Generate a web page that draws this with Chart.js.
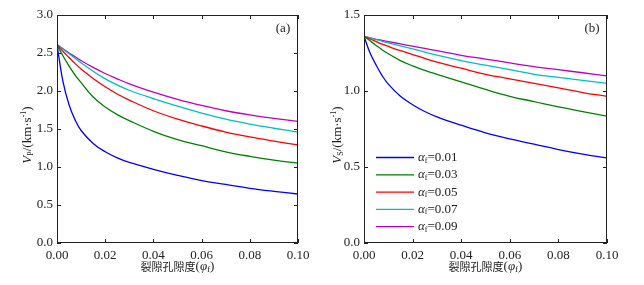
<!DOCTYPE html>
<html>
<head>
<meta charset="utf-8">
<script src="https://cdn.jsdelivr.net/npm/chart.js@4/dist/chart.umd.min.js"></script>
<style>
  body { margin: 0; background: #fff; }
  .wrap { display: flex; width: 644px; height: 285px; }
  .panel { width: 322px; height: 285px; }
</style>
</head>
<body>
<div class="wrap">
  <div class="panel"><canvas id="vp-chart" width="322" height="285"></canvas></div>
  <div class="panel"><canvas id="vs-chart" width="322" height="285"></canvas></div>
</div>
<script>
// fracture porosity (x axis)
const porosity = [0, 0.0025, 0.005, 0.0075, 0.01, 0.015, 0.02, 0.025, 0.03, 0.04, 0.05, 0.06, 0.07, 0.08, 0.09, 0.10];
const alphaLabels = ["0.01", "0.03", "0.05", "0.07", "0.09"];
const lineColors = ["#0000ff", "#008000", "#ff0000", "#00bfbf", "#bf00bf"];

// (a) P-wave velocity, km/s
const vp01 = [2.61, 2.12, 1.82, 1.62, 1.48, 1.31, 1.20, 1.12, 1.06, 0.97, 0.89, 0.82, 0.77, 0.72, 0.68, 0.645];
const vp03 = [2.61, 2.46, 2.33, 2.21, 2.11, 1.92, 1.79, 1.69, 1.61, 1.47, 1.36, 1.28, 1.20, 1.14, 1.09, 1.05];
const vp05 = [2.61, 2.52, 2.44, 2.36, 2.29, 2.165, 2.055, 1.96, 1.88, 1.74, 1.63, 1.54, 1.46, 1.395, 1.34, 1.29];
const vp07 = [2.61, 2.55, 2.49, 2.43, 2.37, 2.26, 2.16, 2.08, 2.01, 1.90, 1.80, 1.71, 1.63, 1.565, 1.51, 1.46];
const vp09 = [2.61, 2.555, 2.50, 2.45, 2.40, 2.31, 2.23, 2.16, 2.095, 1.985, 1.89, 1.81, 1.74, 1.685, 1.64, 1.60];

// (b) S-wave velocity, km/s
const vs01 = [1.36, 1.25, 1.17, 1.10, 1.045, 0.965, 0.91, 0.865, 0.83, 0.775, 0.725, 0.685, 0.65, 0.615, 0.585, 0.56];
const vs03 = [1.36, 1.33, 1.30, 1.27, 1.245, 1.20, 1.165, 1.135, 1.11, 1.06, 1.01, 0.965, 0.93, 0.895, 0.865, 0.835];
const vs05 = [1.36, 1.342, 1.325, 1.308, 1.293, 1.265, 1.24, 1.215, 1.19, 1.15, 1.11, 1.08, 1.05, 1.02, 0.99, 0.965];
const vs07 = [1.36, 1.349, 1.338, 1.327, 1.317, 1.297, 1.277, 1.256, 1.236, 1.20, 1.17, 1.14, 1.11, 1.09, 1.07, 1.05];
const vs09 = [1.36, 1.35, 1.34, 1.333, 1.325, 1.31, 1.295, 1.28, 1.265, 1.235, 1.21, 1.185, 1.16, 1.14, 1.12, 1.10];

const SERIF = "'Liberation Serif', 'Times New Roman', serif";
const CJK = "'Noto Sans CJK SC', sans-serif";
const INK = "#222";

// draw a run of text pieces (font / baseline shift) starting at x
function drawRich(ctx, parts, x, y, align) {
  let total = 0;
  parts.forEach((p) => {
    ctx.font = p.font;
    p.w = ctx.measureText(p.t).width;
    total += p.w;
  });
  let cx = align === "center" ? x - total / 2 : x;
  ctx.textBaseline = "middle";
  ctx.textAlign = "left";
  parts.forEach((p) => {
    ctx.font = p.font;
    ctx.fillText(p.t, cx, y + (p.dy || 0));
    cx += p.w;
  });
}

function makeDecor(opts) {
  return {
    id: "decor",
    afterDraw(chart) {
      const ctx = chart.ctx;
      const a = chart.chartArea;
      const xs = chart.scales.x;
      const ys = chart.scales.y;
      ctx.save();
      ctx.strokeStyle = INK;
      ctx.lineWidth = 1;
      ctx.strokeRect(a.left + 0.5, a.top + 0.5, a.right - a.left - 1, a.bottom - a.top - 1);
      // inward ticks on all four sides
      ctx.beginPath();
      xs.ticks.forEach((t) => {
        const px = Math.round(xs.getPixelForValue(t.value)) + 0.5;
        ctx.moveTo(px, a.bottom);
        ctx.lineTo(px, a.bottom - 4);
        ctx.moveTo(px, a.top);
        ctx.lineTo(px, a.top + 4);
      });
      ys.ticks.forEach((t) => {
        const py = Math.round(ys.getPixelForValue(t.value)) + 0.5;
        ctx.moveTo(a.left, py);
        ctx.lineTo(a.left + 4, py);
        ctx.moveTo(a.right, py);
        ctx.lineTo(a.right - 4, py);
      });
      ctx.stroke();

      ctx.fillStyle = INK;
      // x title
      drawRich(ctx, [
        { t: "裂隙孔隙度", font: "11px " + CJK },
        { t: "(", font: "13px " + SERIF },
        { t: "φ", font: "italic 13px " + SERIF },
        { t: "f", font: "9px " + SERIF, dy: 3 },
        { t: ")", font: "13px " + SERIF },
      ], (a.left + a.right) / 2, 267, "center");

      // y title (rotated)
      ctx.save();
      ctx.translate(opts.yTitleX, 135);
      ctx.rotate(-Math.PI / 2);
      drawRich(ctx, [
        { t: "V", font: "italic 13px " + SERIF },
        { t: opts.sub, font: "8px " + SERIF, dy: 3 },
        { t: "/(km·s", font: "13px " + SERIF },
        { t: "-1", font: "8px " + SERIF, dy: -4 },
        { t: ")", font: "13px " + SERIF },
      ], 0, 0, "center");
      ctx.restore();

      // panel tag
      ctx.font = "13px " + SERIF;
      ctx.textAlign = "center";
      ctx.textBaseline = "middle";
      ctx.fillText(opts.tag, a.right - 15, 29);

      // legend
      if (opts.legend) {
        chart.data.datasets.forEach((ds, i) => {
          const ly = 157.5 + i * 17.3;
          ctx.strokeStyle = ds.borderColor;
          ctx.lineWidth = 1.3;
          ctx.beginPath();
          ctx.moveTo(a.left + 12, ly);
          ctx.lineTo(a.left + 50, ly);
          ctx.stroke();
          ctx.fillStyle = INK;
          drawRich(ctx, [
            { t: "α", font: "italic 13px " + SERIF },
            { t: "f", font: "8px " + SERIF, dy: 3 },
            { t: "=" + alphaLabels[i], font: "13px " + SERIF },
          ], a.left + 54, ly, "left");
        });
      }
      ctx.restore();
    },
  };
}

function buildChart(id, series, yMax, yStep, yWidth, padRight, opts) {
  const ctx = document.getElementById(id).getContext("2d");
  return new Chart(ctx, {
    type: "line",
    data: {
      datasets: series.map((vals, i) => ({
        label: "αf=" + alphaLabels[i],
        data: vals.map((v, j) => ({ x: porosity[j], y: v })),
        borderColor: lineColors[i],
        borderWidth: 1.3,
        pointRadius: 0,
        fill: false,
        tension: 0.4,
      })),
    },
    options: {
      responsive: false,
      animation: false,
      events: [],
      layout: { padding: { top: 15, right: padRight, bottom: 0, left: 0 } },
      plugins: { legend: { display: false }, tooltip: { enabled: false } },
      scales: {
        x: {
          type: "linear",
          min: 0,
          max: 0.1,
          grid: { display: false, drawTicks: false },
          border: { display: false },
          ticks: {
            stepSize: 0.02,
            padding: 5,
            color: INK,
            font: { family: SERIF, size: 13 },
            callback: (v) => v.toFixed(2),
          },
          afterFit: (s) => { s.height = 42; },
        },
        y: {
          min: 0,
          max: yMax,
          grid: { display: false, drawTicks: false },
          border: { display: false },
          ticks: {
            stepSize: yStep,
            padding: 4,
            color: INK,
            font: { family: SERIF, size: 13 },
            callback: (v) => v.toFixed(1),
          },
          afterFit: (s) => { s.width = yWidth; },
        },
      },
    },
    plugins: [makeDecor(opts)],
  });
}

buildChart("vp-chart", [vp01, vp03, vp05, vp07, vp09], 3.0, 0.5, 57, 24,
  { sub: "P", tag: "(a)", yTitleX: 28, legend: false });
buildChart("vs-chart", [vs01, vs03, vs05, vs07, vs09], 1.5, 0.5, 42, 37,
  { sub: "S", tag: "(b)", yTitleX: 16, legend: true });
</script>
</body>
</html>
